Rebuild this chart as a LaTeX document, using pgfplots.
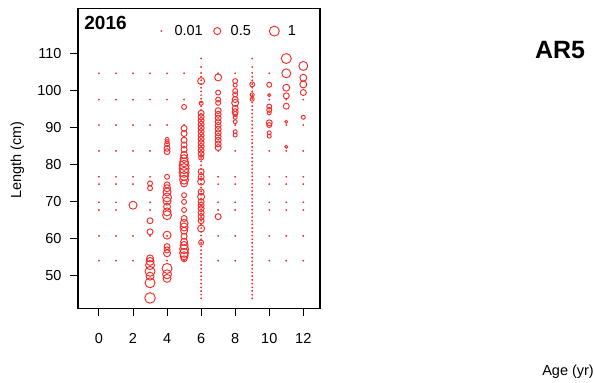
\documentclass[border=0pt]{standalone}
\usepackage{pgfplots}
\pgfplotsset{compat=1.18}
\usepackage{pgfplotstable}
\usepackage{fontspec}
\setmainfont{Liberation Sans}
\definecolor{myred}{RGB}{245,45,45}

\pgfplotstableread{
a L
0 104.6
0 97.5
0 90.6
0 83.6
0 76.6
0 74.6
0 69.7
0 67.6
0 60.6
0 53.9
1 104.6
1 97.5
1 90.6
1 83.6
1 76.6
1 74.6
1 69.7
1 67.6
1 60.6
1 53.9
2 104.6
2 97.5
2 90.6
2 83.6
2 76.6
2 74.6
2 60.6
2 53.9
3 104.6
3 97.5
3 90.6
3 83.6
3 76.6
3 69.7
3 67.6
3 60.6
4 104.6
4 97.5
4 90.6
4 60.6
4 53.9
5 104.6
5 97.5
5 90.6
5 53.9
7 104.6
7 83.6
7 76.6
7 74.6
7 69.7
7 67.6
7 60.6
7 53.9
8 104.6
8 90.6
8 83.6
8 76.6
8 74.6
8 69.7
8 67.6
8 60.6
8 53.9
10 104.6
10 97.5
10 83.6
10 76.6
10 74.6
10 69.7
10 67.6
10 60.6
10 53.9
11 97.5
11 90.6
11 83.6
11 76.6
11 74.6
11 69.7
11 67.6
11 60.6
11 53.9
12 97.5
12 90.6
12 83.6
12 76.6
12 74.6
12 69.7
12 67.6
12 60.6
12 53.9
6 43.7
6 44.7
6 45.7
6 46.7
6 47.7
6 48.7
6 49.7
6 50.7
6 51.7
6 52.7
6 53.7
6 54.7
6 55.7
6 56.7
6 57.7
6 58.7
6 59.7
6 60.7
6 61.7
6 62.7
6 63.7
6 64.7
6 65.7
6 66.7
6 67.7
6 68.7
6 69.7
6 70.7
6 71.7
6 72.7
6 73.7
6 74.7
6 75.7
6 76.7
6 77.7
6 78.7
6 79.7
6 80.7
6 81.7
6 82.7
6 83.7
6 84.7
6 85.7
6 86.7
6 87.7
6 88.7
6 89.7
6 90.7
6 91.7
6 92.7
6 93.7
6 94.7
6 95.7
6 96.7
6 97.7
6 98.7
6 99.7
6 100.7
6 101.7
6 102.7
6 103.7
6 104.7
6 106.3
6 108.6
9 43.7
9 44.7
9 45.7
9 46.7
9 47.7
9 48.7
9 49.7
9 50.7
9 51.7
9 52.7
9 53.7
9 54.7
9 55.7
9 56.7
9 57.7
9 58.7
9 59.7
9 60.7
9 61.7
9 62.7
9 63.7
9 64.7
9 65.7
9 66.7
9 67.7
9 68.7
9 69.7
9 70.7
9 71.7
9 72.7
9 73.7
9 74.7
9 75.7
9 76.7
9 77.7
9 78.7
9 79.7
9 80.7
9 81.7
9 82.7
9 83.7
9 84.7
9 85.7
9 86.7
9 87.7
9 88.7
9 89.7
9 90.7
9 91.7
9 92.7
9 93.7
9 94.7
9 95.7
9 96.7
9 97.7
9 98.7
9 99.7
9 100.7
9 101.7
9 102.7
9 103.7
9 104.7
9 106.3
9 108.6
}\dottable

\pgfplotstableread{
a L r
2 68.9 4
3 74.8 2.5
3 73.5 2.5
3 64.7 3
3 61.7 3
3 54.5 3.5
3 53.7 4
3 52.7 4.5
3 51.0 5
3 49.7 4
3 47.9 5
3 43.8 5.3
4 86.7 2
4 86.1 2
4 85.4 2.5
4 84.3 3
4 83.4 3
4 76.6 2.5
4 74.4 3
4 73.5 3.5
4 72.5 4
4 71.0 4.5
4 70.0 4
4 68.5 3.5
4 67.1 4
4 66.2 4.5
4 60.8 4
4 57.7 3
4 56.8 3
4 55.9 3.5
4 51.8 5
4 50.2 4.5
4 49.1 4
5 95.5 2.5
5 89.7 3
5 88.3 3
5 86.5 3
5 85.2 3
5 84.0 3
5 82.5 3.5
5 81.5 4
5 80.5 4.5
5 79.7 5
5 78.8 5
5 77.8 5
5 76.8 4.5
5 75.8 4.5
5 74.8 3.5
5 71.6 2.5
5 69.8 2.5
5 67.6 2.5
5 65.3 3
5 64.0 4
5 63.0 4
5 62.0 3.5
5 60.5 3
5 59.0 3.5
5 58.0 4
5 57.0 4.5
5 56.0 4.5
5 55.2 4
5 54.4 3
6 102.5 3.5
6 96.5 2
6 93.8 3
6 92.8 3
6 91.8 3
6 90.8 3
6 89.8 3
6 88.8 3
6 87.8 3
6 86.8 3
6 85.8 3
6 84.8 3
6 83.8 3
6 82.8 3
6 81.8 2.5
6 78.0 3
6 76.6 3
6 75.3 3.5
6 72.5 3
6 71.2 3.5
6 69.8 3
6 68.9 3
6 68.0 3
6 66.9 3
6 65.8 3
6 64.7 3
6 62.6 3.5
6 58.8 2.5
7 103.5 3.5
7 99.4 2.5
7 97.5 2.5
7 96.6 2.5
7 94.5 3
7 93.5 3
7 92.5 3
7 91.5 3
7 90.5 3
7 89.5 3
7 88.5 3
7 87.5 3
7 86.5 3
7 85.5 3
7 84.5 3
7 65.8 3
8 102.5 2.5
8 101.4 2
8 99.8 2.5
8 98.9 2.5
8 97.5 3
8 96.6 3.5
8 95.1 3
8 94.2 3
8 93.6 2.5
8 92.7 2
8 91.5 2
8 88.8 2
8 87.9 2
9 101.6 2.5
9 98.8 2
9 97.6 2
10 101.5 2.5
10 98.7 1.5
10 95.6 2.5
10 94.7 2.5
10 93.9 2
10 91.2 3
10 90.6 2.5
10 88.5 2
10 87.6 2
11 108.6 5
11 104.6 4.5
11 100.7 3.5
11 98.5 3
11 95.7 3
11 91.5 1.5
11 84.7 1.5
12 106.6 4.5
12 103.4 3.5
12 101.6 3.5
12 99.4 3
12 92.7 2
}\circtable

\begin{document}
\begin{tikzpicture}
\useasboundingbox (0,0) rectangle (595bp,383bp);
\begin{axis}[
  at={(78bp,74.7bp)}, anchor=south west,
  scale only axis, width=242bp, height=300bp,
  xmin=-1.23, xmax=12.98, ymin=41.0, ymax=122.2,
  xtick={0,2,4,6,8,10,12}, ytick={50,60,70,80,90,100,110},
  tick pos=left, tick align=outside, major tick length=8bp,
  minor tick num=0,
  axis line style={line width=1.1bp},
  tick style={line width=0.9bp, black},
  /pgf/number format/assume math mode=true,
  ticklabel style={font=\fontsize{14.5bp}{17bp}\selectfont},
  xticklabel style={yshift=-14bp},
  yticklabel style={xshift=-5bp},
  xlabel={Age (yr)},
  xlabel style={at={(axis description cs:2.025,-0.212)}, anchor=center, font=\fontsize{14.5bp}{17bp}\selectfont},
  ylabel={Length (cm)},
  ylabel style={at={(axis description cs:-0.25,0.494)}, anchor=center, font=\fontsize{14.5bp}{17bp}\selectfont},
  legend columns=3,
  legend style={draw=none, fill=none, at={(axis description cs:0.318,0.924)}, anchor=west, inner sep=0pt,
    font=\fontsize{14.5bp}{17bp}\selectfont,
    /tikz/column 2/.style={column sep=6bp},
    /tikz/column 4/.style={column sep=15bp}},
  legend image code/.code={\path (-6bp,0bp) (11bp,0bp); \draw[#1] plot coordinates {(0bp,0bp)};},
  clip=false,
]
\addlegendimage{only marks, mark=*, mark size=0.7, myred}
\addlegendentry{0.01}
\addlegendimage{only marks, mark=o, mark size=3.54, myred, line width=0.95bp}
\addlegendentry{0.5}
\addlegendimage{only marks, mark=o, mark size=5, myred, line width=0.95bp}
\addlegendentry{1}

\addplot[forget plot, only marks, mark=*, mark size=0.7, myred, mark options={draw=none, fill=myred}] table[x=a, y=L] {\dottable};

\addplot[forget plot, only marks, mark=o, myred, line width=0.95bp, scatter,
  scatter/use mapped color={draw=myred},
  visualization depends on={\thisrow{r} \as \rr},
  scatter/@pre marker code/.append style={/tikz/mark size=\rr}] table[x=a, y=L] {\circtable};

\node[anchor=west, font=\bfseries\fontsize{19bp}{21bp}\selectfont] at (axis description cs:0.012,0.951) {2016};
\node[anchor=center, font=\bfseries\fontsize{25bp}{28bp}\selectfont] at (axis description cs:1.992,0.86) {AR5};
\end{axis}
\end{tikzpicture}
\end{document}
